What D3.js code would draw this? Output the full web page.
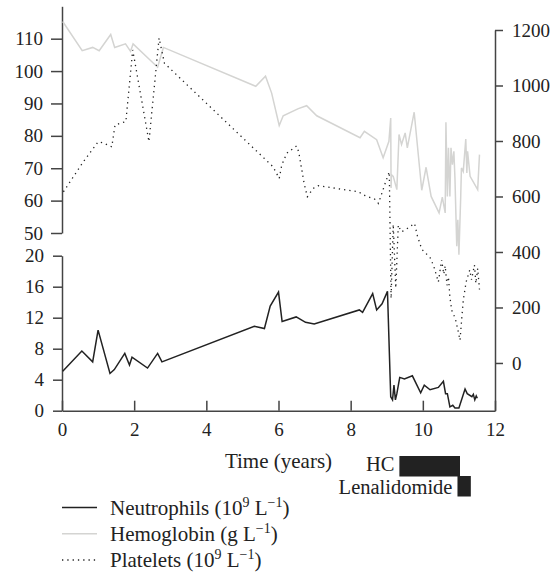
<!DOCTYPE html>
<html>
<head>
<meta charset="utf-8">
<script src="https://cdn.jsdelivr.net/npm/d3@7"></script>
<style>
  body { margin: 0; background: #fff; }
</style>
</head>
<body>
<div id="chart"></div>
<script>
// neutrophils (10^9/L) against years
var neutroYears = [0.02, 0.55, 0.85, 1.0, 1.33, 1.45, 1.74, 1.87, 1.94, 2.37, 2.65, 2.77,
    5.33, 5.61, 5.77, 6.0, 6.1, 6.49, 6.75, 6.99, 8.24, 8.33, 8.61, 8.72, 8.87, 9.02,
    9.11, 9.16, 9.2, 9.24, 9.28, 9.36, 9.49, 9.71, 9.94, 10.04, 10.2, 10.43, 10.57, 10.63,
    10.68, 10.75, 10.83, 10.89, 11.0, 11.17, 11.23, 11.36, 11.4, 11.44, 11.48, 11.51];
var neutroValues = [5.1, 7.7, 6.3, 10.4, 4.8, 5.3, 7.4, 5.9, 6.9, 5.5, 7.4, 6.3,
    10.9, 10.6, 13.5, 15.3, 11.5, 12.1, 11.4, 11.2, 13.0, 12.7, 15.1, 13.0, 13.8, 15.4,
    1.8, 1.4, 3.3, 1.4, 2.2, 4.3, 4.1, 4.5, 2.3, 3.3, 2.7, 3.0, 3.8, 2.2,
    2.2, 0.5, 0.7, 0.35, 0.35, 2.8, 2.2, 1.8, 2.1, 1.4, 1.9, 1.6];

// hemoglobin (g/L)
var hemoYears = [0.02, 0.56, 0.85, 1.03, 1.35, 1.46, 1.76, 1.9, 1.97, 2.65, 2.81,
    5.37, 5.64, 5.81, 6.02, 6.13, 6.55, 6.78, 7.06, 8.26, 8.38, 8.72, 8.9, 9.06,
    9.11, 9.12, 9.13, 9.18, 9.28, 9.34, 9.41, 9.51, 9.57, 9.76, 9.97, 10.09, 10.23,
    10.45, 10.54, 10.62, 10.64, 10.68, 10.71, 10.75, 10.78, 10.82, 10.86, 10.89, 10.94,
    10.97, 11.0, 11.05, 11.07, 11.12, 11.15, 11.19, 11.22, 11.24, 11.31, 11.52, 11.57];
var hemoValues = [115.3, 106.3, 107.3, 106.3, 111.3, 107.3, 108.4, 106.1, 108.4, 101.2, 107.3,
    95.3, 98.4, 93.2, 83.2, 86.2, 88.4, 89.3, 86.2, 79.4, 81.4, 78.8, 73.2, 78.3,
    85.5, 63.9, 68, 67.5, 63.4, 80.4, 77.3, 80.9, 76.3, 87.3, 63.2, 70.3, 61.3,
    56.2, 61.1, 56.2, 84.2, 61.3, 76.3, 61.3, 76.3, 71.1, 75.2, 67.0, 45.9,
    54.1, 43.3, 61.3, 70.1, 69.0, 73.2, 79.0, 68.5, 75.2, 67.5, 63.4, 74.2];

// platelets (10^9/L), right axis
var platYears = [0.04, 0.59, 1.0, 1.13, 1.38, 1.47, 1.77, 1.96, 2.41, 2.69, 2.84,
    5.85, 6.02, 6.09, 6.23, 6.5, 6.56, 6.71, 6.8, 6.96, 7.1, 8.21, 8.4, 8.67, 8.77, 8.95, 9.07,
    9.12, 9.18, 9.25, 9.32, 9.4, 9.51, 9.77, 9.85, 9.97,
    10.2, 10.3, 10.43, 10.52, 10.58, 10.62, 10.67, 10.71, 10.75, 10.8, 10.9, 10.97, 11.03,
    11.12, 11.2, 11.3, 11.35, 11.43, 11.47, 11.52, 11.57];
var platValues = [617, 725, 797, 794, 779, 858, 870, 1128, 798, 1171, 1080,
    707, 665, 713, 756, 782, 761, 647, 599, 629, 639, 617, 603, 590, 575, 645, 689,
    232, 500, 270, 497, 473, 479, 503, 458, 410,
    380, 350, 292, 371, 320, 350, 280, 310, 238, 190, 160, 120, 82,
    226, 292, 335, 300, 353, 287, 340, 265];

// treatment periods (years)
var treatNames = ["HC", "Lenalidomide"];
var treatStart = [9.35, 10.96];
var treatEnd = [11.03, 11.33];

var xTicks = [0, 2, 4, 6, 8, 10, 12];
var hemoTicks = [50, 60, 70, 80, 90, 100, 110];
var neutroTicks = [0, 4, 8, 12, 16, 20];
var platTicks = [0, 200, 400, 600, 800, 1000, 1200];

var width = 555, height = 573;
var serif = "'Liberation Serif'";

var svg = d3.select("#chart").append("svg")
    .attr("width", width)
    .attr("height", height);

var x = d3.scaleLinear().domain([0, 12]).range([62, 495]);
var yHemo = d3.scaleLinear().domain([50, 120]).range([233, 6.3]);
var yNeutro = d3.scaleLinear().domain([0, 20]).range([410.7, 255.7]);
var yPlat = d3.scaleLinear().domain([-172, 1200]).range([410.7, 30]);

function styleAxis(g) {
    g.attr("font-size", null).attr("font-family", null);
    g.selectAll("path, line").attr("stroke", "#444").attr("stroke-width", 1.5);
    g.selectAll("text")
        .style("font-family", serif)
        .style("font-size", "19px")
        .attr("fill", "#222");
}

// axes
svg.append("g")
    .attr("transform", "translate(" + x(0) + ",0)")
    .call(d3.axisLeft(yHemo).tickValues(hemoTicks).tickSize(11).tickSizeOuter(0).tickPadding(8))
    .call(styleAxis);

svg.append("g")
    .attr("transform", "translate(" + x(0) + ",0)")
    .call(d3.axisLeft(yNeutro).tickValues(neutroTicks).tickSize(9).tickSizeOuter(0).tickPadding(9))
    .call(styleAxis);

svg.append("g")
    .attr("transform", "translate(" + x(12) + ",0)")
    .call(d3.axisRight(yPlat).tickValues(platTicks).tickFormat(d3.format("d"))
        .tickSize(8).tickSizeOuter(0).tickPadding(9))
    .call(styleAxis);

svg.append("g")
    .attr("transform", "translate(0," + yNeutro(0) + ")")
    .call(d3.axisBottom(x).tickValues(xTicks).tickSizeInner(-10).tickSizeOuter(0).tickPadding(12))
    .call(styleAxis);

// lines
function series(xs, ys, yScale) {
    return d3.line()
        .x(function(d, i) { return x(xs[i]); })
        .y(function(d, i) { return yScale(ys[i]); })(xs);
}

svg.append("path")
    .attr("d", series(hemoYears, hemoValues, yHemo))
    .attr("fill", "none")
    .attr("stroke", "#d4d4d2")
    .attr("stroke-width", 1.5);

svg.append("path")
    .attr("d", series(platYears, platValues, yPlat))
    .attr("fill", "none")
    .attr("stroke", "#222")
    .attr("stroke-width", 1.3)
    .attr("stroke-dasharray", "1.3,4");

svg.append("path")
    .attr("d", series(neutroYears, neutroValues, yNeutro))
    .attr("fill", "none")
    .attr("stroke", "#222")
    .attr("stroke-width", 1.5);

// x label
svg.append("text")
    .attr("x", (x(0) + x(12)) / 2)
    .attr("y", 468)
    .attr("text-anchor", "middle")
    .attr("fill", "#222")
    .style("font-family", serif)
    .style("font-size", "21px")
    .text("Time (years)");

// treatment bars
var barTop = [456, 476];
var labelBase = [471, 494];
treatNames.forEach(function(name, i) {
    svg.append("rect")
        .attr("x", x(treatStart[i]))
        .attr("y", barTop[i])
        .attr("width", x(treatEnd[i]) - x(treatStart[i]))
        .attr("height", 20.5)
        .attr("fill", "#222");
    svg.append("text")
        .attr("x", x(treatStart[i]) - 5)
        .attr("y", labelBase[i])
        .attr("text-anchor", "end")
        .attr("fill", "#222")
        .style("font-family", serif)
        .style("font-size", "20.5px")
        .text(name);
});

// legend
var legendItems = [
    {label: "Neutrophils (10", sup: "9", unit: " L", sup2: "\u22121", color: "#222", dash: null},
    {label: "Hemoglobin (g", sup: null, unit: " L", sup2: "\u22121", color: "#d4d4d2", dash: null},
    {label: "Platelets (10", sup: "9", unit: " L", sup2: "\u22121", color: "#222", dash: "1.3,4"}
];

legendItems.forEach(function(d, i) {
    var ly = 507.5 + i * 26.3;
    svg.append("line")
        .attr("x1", 62).attr("x2", 97)
        .attr("y1", ly).attr("y2", ly)
        .attr("stroke", d.color)
        .attr("stroke-width", 1.5)
        .attr("stroke-dasharray", d.dash);
    var t = svg.append("text")
        .attr("x", 110)
        .attr("y", ly + 7)
        .attr("fill", "#222")
        .style("font-family", serif)
        .style("font-size", "21px");
    t.append("tspan").text(d.label);
    if (d.sup) {
        t.append("tspan").attr("dy", -8).style("font-size", "14px").text(d.sup);
        t.append("tspan").attr("dy", 8).text(d.unit);
    } else {
        t.append("tspan").text(d.unit);
    }
    t.append("tspan").attr("dy", -8).style("font-size", "14px").text(d.sup2);
    t.append("tspan").attr("dy", 8).text(")");
});
</script>
</body>
</html>
